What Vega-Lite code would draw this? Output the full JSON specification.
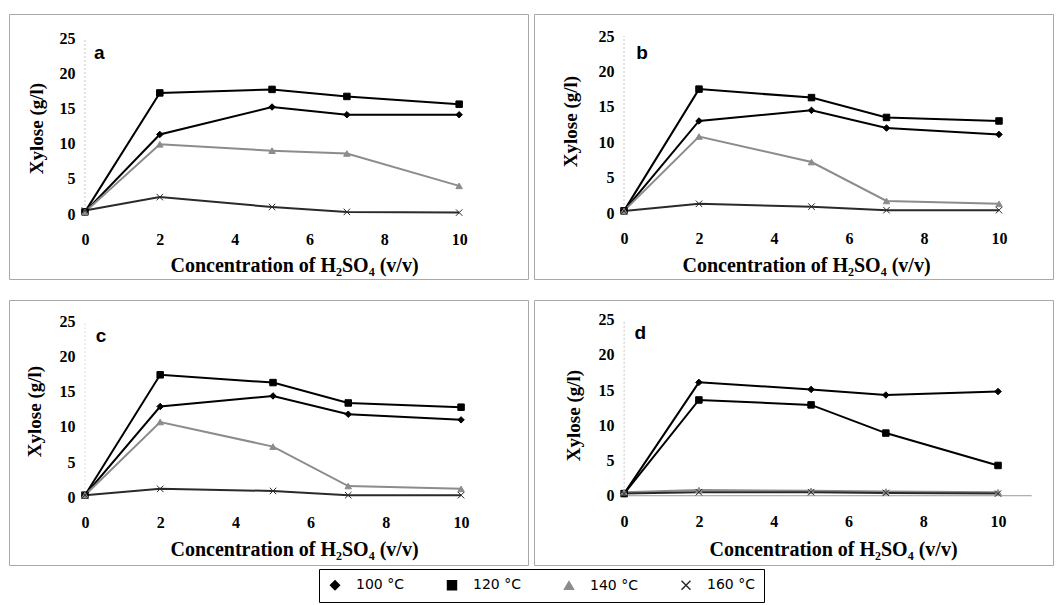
{
  "$schema": "https://vega.github.io/schema/vega-lite/v6.json",
  "background": "white",
  "padding": {"left": 8, "top": 13, "right": 0, "bottom": 0},
  "datasets": {
    "xy": [
      {"p":"a","s":"100 °C","c":0,"v":0.3},{"p":"a","s":"100 °C","c":2,"v":11.3},{"p":"a","s":"100 °C","c":5,"v":15.2},{"p":"a","s":"100 °C","c":7,"v":14.1},{"p":"a","s":"100 °C","c":10,"v":14.1},
      {"p":"a","s":"120 °C","c":0,"v":0.3},{"p":"a","s":"120 °C","c":2,"v":17.2},{"p":"a","s":"120 °C","c":5,"v":17.7},{"p":"a","s":"120 °C","c":7,"v":16.7},{"p":"a","s":"120 °C","c":10,"v":15.6},
      {"p":"a","s":"140 °C","c":0,"v":0.3},{"p":"a","s":"140 °C","c":2,"v":9.9},{"p":"a","s":"140 °C","c":5,"v":9.0},{"p":"a","s":"140 °C","c":7,"v":8.6},{"p":"a","s":"140 °C","c":10,"v":4.0},
      {"p":"a","s":"160 °C","c":0,"v":0.5},{"p":"a","s":"160 °C","c":2,"v":2.4},{"p":"a","s":"160 °C","c":5,"v":1.0},{"p":"a","s":"160 °C","c":7,"v":0.3},{"p":"a","s":"160 °C","c":10,"v":0.2},
      {"p":"b","s":"100 °C","c":0,"v":0.3},{"p":"b","s":"100 °C","c":2,"v":13.0},{"p":"b","s":"100 °C","c":5,"v":14.5},{"p":"b","s":"100 °C","c":7,"v":12.0},{"p":"b","s":"100 °C","c":10,"v":11.1},
      {"p":"b","s":"120 °C","c":0,"v":0.3},{"p":"b","s":"120 °C","c":2,"v":17.5},{"p":"b","s":"120 °C","c":5,"v":16.3},{"p":"b","s":"120 °C","c":7,"v":13.5},{"p":"b","s":"120 °C","c":10,"v":13.0},
      {"p":"b","s":"140 °C","c":0,"v":0.3},{"p":"b","s":"140 °C","c":2,"v":10.8},{"p":"b","s":"140 °C","c":5,"v":7.2},{"p":"b","s":"140 °C","c":7,"v":1.7},{"p":"b","s":"140 °C","c":10,"v":1.3},
      {"p":"b","s":"160 °C","c":0,"v":0.3},{"p":"b","s":"160 °C","c":2,"v":1.3},{"p":"b","s":"160 °C","c":5,"v":0.9},{"p":"b","s":"160 °C","c":7,"v":0.4},{"p":"b","s":"160 °C","c":10,"v":0.4},
      {"p":"c","s":"100 °C","c":0,"v":0.3},{"p":"c","s":"100 °C","c":2,"v":12.9},{"p":"c","s":"100 °C","c":5,"v":14.4},{"p":"c","s":"100 °C","c":7,"v":11.8},{"p":"c","s":"100 °C","c":10,"v":11.0},
      {"p":"c","s":"120 °C","c":0,"v":0.3},{"p":"c","s":"120 °C","c":2,"v":17.4},{"p":"c","s":"120 °C","c":5,"v":16.3},{"p":"c","s":"120 °C","c":7,"v":13.4},{"p":"c","s":"120 °C","c":10,"v":12.8},
      {"p":"c","s":"140 °C","c":0,"v":0.3},{"p":"c","s":"140 °C","c":2,"v":10.7},{"p":"c","s":"140 °C","c":5,"v":7.2},{"p":"c","s":"140 °C","c":7,"v":1.6},{"p":"c","s":"140 °C","c":10,"v":1.2},
      {"p":"c","s":"160 °C","c":0,"v":0.3},{"p":"c","s":"160 °C","c":2,"v":1.2},{"p":"c","s":"160 °C","c":5,"v":0.9},{"p":"c","s":"160 °C","c":7,"v":0.3},{"p":"c","s":"160 °C","c":10,"v":0.3},
      {"p":"d","s":"100 °C","c":0,"v":0.3},{"p":"d","s":"100 °C","c":2,"v":16.1},{"p":"d","s":"100 °C","c":5,"v":15.1},{"p":"d","s":"100 °C","c":7,"v":14.3},{"p":"d","s":"100 °C","c":10,"v":14.8},
      {"p":"d","s":"120 °C","c":0,"v":0.3},{"p":"d","s":"120 °C","c":2,"v":13.6},{"p":"d","s":"120 °C","c":5,"v":12.9},{"p":"d","s":"120 °C","c":7,"v":8.9},{"p":"d","s":"120 °C","c":10,"v":4.3},
      {"p":"d","s":"140 °C","c":0,"v":0.5},{"p":"d","s":"140 °C","c":2,"v":0.8},{"p":"d","s":"140 °C","c":5,"v":0.7},{"p":"d","s":"140 °C","c":7,"v":0.6},{"p":"d","s":"140 °C","c":10,"v":0.5},
      {"p":"d","s":"160 °C","c":0,"v":0.3},{"p":"d","s":"160 °C","c":2,"v":0.5},{"p":"d","s":"160 °C","c":5,"v":0.5},{"p":"d","s":"160 °C","c":7,"v":0.4},{"p":"d","s":"160 °C","c":10,"v":0.3}
    ]
  },
  "vconcat": [
    {
      "spacing": 4,
      "hconcat": [
        {
          "width": 519, "height": 265,
          "layer": [
            {
              "data": {"values": [{}]},
              "mark": {"type": "rule", "color": "#c4c4c4", "strokeDash": [2, 2], "strokeWidth": 1},
              "encoding": {"x": {"datum": 0, "type": "quantitative"}, "y": {"datum": 0, "type": "quantitative"}, "y2": {"datum": 25}}
            },
            {
              "data": {"name": "xy"},
              "transform": [{"filter": "datum.p === 'a'"}],
              "mark": {"type": "line", "strokeWidth": 2},
              "encoding": {
                "x": {"field": "c", "type": "quantitative", "scale": {"domain": [-2.03, 11.84], "nice": false, "zero": false},
                      "axis": {"title": "Concentration of H₂SO₄ (v/v)", "values": [0, 2, 4, 6, 8, 10], "offset": -65, "titleX": 285, "titleY": 51}},
                "y": {"field": "v", "type": "quantitative", "scale": {"domain": [-9.23, 28.41], "nice": false, "zero": false},
                      "axis": {"title": "Xylose (g/l)", "values": [0, 5, 10, 15, 20, 25], "offset": -76, "titleX": -49, "titleY": 114}},
                "color": {"field": "s", "type": "nominal", "title": null, "scale": {"domain": ["100 °C", "120 °C", "140 °C", "160 °C"], "range": ["#000000", "#000000", "#8c8c8c", "#2a2a2a"]}, "legend": {"title": null}}
              }
            },
            {
              "data": {"name": "xy"},
              "transform": [{"filter": "datum.p === 'a'"}],
              "mark": {"type": "point", "filled": true, "opacity": 1, "size": 42, "strokeWidth": 1},
              "encoding": {
                "x": {"field": "c", "type": "quantitative"},
                "y": {"field": "v", "type": "quantitative"},
                "color": {"field": "s", "type": "nominal", "title": null, "legend": {"title": null}},
                "shape": {"field": "s", "type": "nominal", "title": null, "scale": {"domain": ["100 °C", "120 °C", "140 °C", "160 °C"], "range": ["diamond", "square", "triangle-up", "M-1,-1L1,1M-1,1L1,-1"]}, "legend": null},
                "stroke": {"field": "s", "type": "nominal", "legend": null, "scale": {"domain": ["100 °C", "120 °C", "140 °C", "160 °C"], "range": ["#000000", "#000000", "#8c8c8c", "#2a2a2a"]}}
              }
            },
            {
              "data": {"values": [{"t": "a"}]},
              "mark": {"type": "text", "font": "Liberation Sans", "fontWeight": "bold", "fontSize": 19, "color": "#000"},
              "encoding": {"x": {"datum": 0.38, "type": "quantitative"}, "y": {"datum": 22.8, "type": "quantitative"}, "text": {"field": "t"}}
            }
          ]
        },
        {
          "width": 519, "height": 265,
          "layer": [
            {
              "data": {"values": [{}]},
              "mark": {"type": "rule", "color": "#c4c4c4", "strokeDash": [2, 2], "strokeWidth": 1},
              "encoding": {"x": {"datum": 0, "type": "quantitative"}, "y": {"datum": 0, "type": "quantitative"}, "y2": {"datum": 25}}
            },
            {
              "data": {"name": "xy"},
              "transform": [{"filter": "datum.p === 'b'"}],
              "mark": {"type": "line", "strokeWidth": 2},
              "encoding": {
                "x": {"field": "c", "type": "quantitative", "scale": {"domain": [-2.40, 11.44], "nice": false, "zero": false},
                      "axis": {"title": "Concentration of H₂SO₄ (v/v)", "values": [0, 2, 4, 6, 8, 10], "offset": -66, "titleX": 272, "titleY": 52}},
                "y": {"field": "v", "type": "quantitative", "scale": {"domain": [-9.32, 28.11], "nice": false, "zero": false},
                      "axis": {"title": "Xylose (g/l)", "values": [0, 5, 10, 15, 20, 25], "offset": -90, "titleX": -54, "titleY": 107}},
                "color": {"field": "s", "type": "nominal", "title": null, "legend": {"title": null}}
              }
            },
            {
              "data": {"name": "xy"},
              "transform": [{"filter": "datum.p === 'b'"}],
              "mark": {"type": "point", "filled": true, "opacity": 1, "size": 42, "strokeWidth": 1},
              "encoding": {
                "x": {"field": "c", "type": "quantitative"},
                "y": {"field": "v", "type": "quantitative"},
                "color": {"field": "s", "type": "nominal", "title": null, "legend": {"title": null}},
                "shape": {"field": "s", "type": "nominal", "title": null, "legend": null},
                "stroke": {"field": "s", "type": "nominal", "legend": null}
              }
            },
            {
              "data": {"values": [{"t": "b"}]},
              "mark": {"type": "text", "font": "Liberation Sans", "fontWeight": "bold", "fontSize": 19, "color": "#000"},
              "encoding": {"x": {"datum": 0.48, "type": "quantitative"}, "y": {"datum": 22.6, "type": "quantitative"}, "text": {"field": "t"}}
            }
          ]
        }
      ]
    },
    {
      "spacing": 4,
      "hconcat": [
        {
          "width": 519, "height": 265,
          "layer": [
            {
              "data": {"values": [{}]},
              "mark": {"type": "rule", "color": "#dddddd", "strokeDash": [2, 2], "strokeWidth": 1},
              "encoding": {"x": {"datum": 0, "type": "quantitative"}, "y": {"datum": 0, "type": "quantitative"}, "y2": {"datum": 25}}
            },
            {
              "data": {"name": "xy"},
              "transform": [{"filter": "datum.p === 'c'"}],
              "mark": {"type": "line", "strokeWidth": 2},
              "encoding": {
                "x": {"field": "c", "type": "quantitative", "scale": {"domain": [-2.02, 11.78], "nice": false, "zero": false},
                      "axis": {"title": "Concentration of H₂SO₄ (v/v)", "values": [0, 2, 4, 6, 8, 10], "offset": -68, "titleX": 285, "titleY": 52}},
                "y": {"field": "v", "type": "quantitative", "scale": {"domain": [-9.62, 28.03], "nice": false, "zero": false},
                      "axis": {"title": "Xylose (g/l)", "values": [0, 5, 10, 15, 20, 25], "offset": -76, "titleX": -51, "titleY": 111}},
                "color": {"field": "s", "type": "nominal", "title": null, "legend": {"title": null}}
              }
            },
            {
              "data": {"name": "xy"},
              "transform": [{"filter": "datum.p === 'c'"}],
              "mark": {"type": "point", "filled": true, "opacity": 1, "size": 42, "strokeWidth": 1},
              "encoding": {
                "x": {"field": "c", "type": "quantitative"},
                "y": {"field": "v", "type": "quantitative"},
                "color": {"field": "s", "type": "nominal", "title": null, "legend": {"title": null}},
                "shape": {"field": "s", "type": "nominal", "title": null, "legend": null},
                "stroke": {"field": "s", "type": "nominal", "legend": null}
              }
            },
            {
              "data": {"values": [{"t": "c"}]},
              "mark": {"type": "text", "font": "Liberation Sans", "fontWeight": "bold", "fontSize": 19, "color": "#000"},
              "encoding": {"x": {"datum": 0.43, "type": "quantitative"}, "y": {"datum": 22.9, "type": "quantitative"}, "text": {"field": "t"}}
            }
          ]
        },
        {
          "width": 519, "height": 265,
          "layer": [
            {
              "data": {"values": [{}]},
              "mark": {"type": "rule", "color": "#c4c4c4", "strokeDash": [2, 2], "strokeWidth": 1},
              "encoding": {"x": {"datum": 0, "type": "quantitative"}, "y": {"datum": 0, "type": "quantitative"}, "y2": {"datum": 25}}
            },
            {
              "data": {"values": [{}]},
              "mark": {"type": "rule", "color": "#9a9a9a", "strokeWidth": 1},
              "encoding": {"x": {"datum": 0, "type": "quantitative"}, "x2": {"datum": 10.9}, "y": {"datum": 0, "type": "quantitative"}}
            },
            {
              "data": {"name": "xy"},
              "transform": [{"filter": "datum.p === 'd'"}],
              "mark": {"type": "line", "strokeWidth": 2},
              "encoding": {
                "x": {"field": "c", "type": "quantitative", "scale": {"domain": [-2.41, 11.47], "nice": false, "zero": false},
                      "axis": {"title": "Concentration of H₂SO₄ (v/v)", "values": [0, 2, 4, 6, 8, 10], "offset": -69, "titleX": 299, "titleY": 53}},
                "y": {"field": "v", "type": "quantitative", "scale": {"domain": [-9.84, 27.80], "nice": false, "zero": false},
                      "axis": {"title": "Xylose (g/l)", "values": [0, 5, 10, 15, 20, 25], "offset": -90, "titleX": -51, "titleY": 115}},
                "color": {"field": "s", "type": "nominal", "title": null, "legend": {"title": null}}
              }
            },
            {
              "data": {"name": "xy"},
              "transform": [{"filter": "datum.p === 'd'"}],
              "mark": {"type": "point", "filled": true, "opacity": 1, "size": 42, "strokeWidth": 1},
              "encoding": {
                "x": {"field": "c", "type": "quantitative"},
                "y": {"field": "v", "type": "quantitative"},
                "color": {"field": "s", "type": "nominal", "title": null, "legend": {"title": null}},
                "shape": {"field": "s", "type": "nominal", "title": null, "legend": null},
                "stroke": {"field": "s", "type": "nominal", "legend": null}
              }
            },
            {
              "data": {"values": [{"t": "d"}]},
              "mark": {"type": "text", "font": "Liberation Sans", "fontWeight": "bold", "fontSize": 19, "color": "#000"},
              "encoding": {"x": {"datum": 0.43, "type": "quantitative"}, "y": {"datum": 23.1, "type": "quantitative"}, "text": {"field": "t"}}
            }
          ]
        }
      ]
    }
  ],
  "spacing": 19,
  "config": {
    "view": {"stroke": "#a8a8a8", "strokeWidth": 1},
    "axis": {
      "grid": false,
      "domain": false,
      "ticks": false,
      "tickSize": 0,
      "labelFont": "Liberation Serif",
      "labelFontWeight": "bold",
      "labelFontSize": 16,
      "labelColor": "#000",
      "titleFont": "Liberation Serif",
      "titleFontWeight": "bold",
      "titleFontSize": 20,
      "titleColor": "#000",
      "titleBaseline": "middle",
      "titleAlign": "center"
    },
    "axisX": {"labelPadding": 17, "labelBaseline": "top"},
    "axisY": {"labelPadding": 10, "titleAngle": -90, "titleFontSize": 19},
    "legend": {
      "orient": "none",
      "legendX": 310,
      "legendY": 555,
      "direction": "horizontal",
      "strokeColor": "#000",
      "padding": 9,
      "columnPadding": 40,
      "labelFont": "DejaVu Sans",
      "labelFontSize": 14,
      "labelColor": "#000",
      "labelOffset": 14,
      "symbolSize": 80,
      "symbolStrokeWidth": 1.5
    }
  }
}
